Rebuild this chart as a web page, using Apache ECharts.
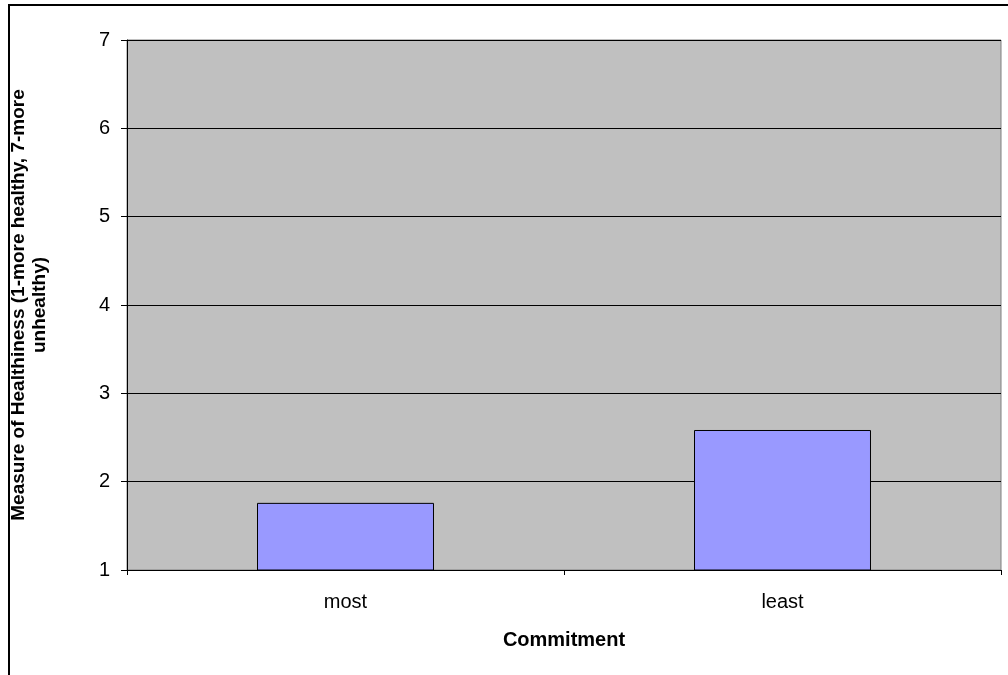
<!DOCTYPE html>
<html>
<head>
<meta charset="utf-8">
<script src="https://cdn.jsdelivr.net/npm/echarts@6/dist/echarts.min.js"></script>
<style>
  html, body { margin: 0; padding: 0; background: #fff; }
  #chart { width: 1008px; height: 675px; }
</style>
</head>
<body>
<div id="chart"></div>
<script>
const categories = ['most', 'least'];
const healthiness = [1.76, 2.585];
const yTicks = { min: 1, max: 7, interval: 1 };

const font = '"Liberation Sans", Arial, sans-serif';

const chart = echarts.init(document.getElementById('chart'), null, { renderer: 'canvas' });

chart.setOption({
    animation: false,
    backgroundColor: '#fff',
    graphic: [{
        type: 'rect',
        shape: { x: 9, y: 5, width: 1020, height: 700 },
        style: { fill: 'none', stroke: '#000', lineWidth: 2 },
        silent: true
    }],
    grid: {
        left: 127, top: 40, right: 7, bottom: 105,
        outerBoundsMode: 'none',
        containLabel: false,
        show: true,
        backgroundColor: '#c0c0c0',
        borderColor: '#808080',
        borderWidth: 1
    },
    xAxis: {
        type: 'category',
        data: categories,
        boundaryGap: true,
        name: 'Commitment',
        nameLocation: 'middle',
        nameGap: 60,
        nameTextStyle: { fontFamily: font, fontSize: 20, fontWeight: 'bold', color: '#000' },
        axisLine: { show: true, lineStyle: { color: '#000', width: 1 } },
        axisTick: { show: true, length: 5, alignWithLabel: false, lineStyle: { color: '#000' } },
        axisLabel: { fontFamily: font, fontSize: 20, color: '#000', margin: 22 },
        splitLine: { show: false }
    },
    yAxis: {
        type: 'value',
        min: yTicks.min,
        max: yTicks.max,
        interval: yTicks.interval,
        name: 'Measure of Healthiness (1-more healthy, 7-more\nunhealthy)',
        nameLocation: 'middle',
        nameRotate: 90,
        nameGap: 77,
        nameTextStyle: {
            fontFamily: font, fontSize: 19, fontWeight: 'bold', color: '#000',
            lineHeight: 21, align: 'center'
        },
        axisLine: { show: true, lineStyle: { color: '#000', width: 1 } },
        axisTick: { show: true, length: 6, lineStyle: { color: '#000' } },
        axisLabel: { fontFamily: font, fontSize: 20, color: '#000', margin: 17 },
        splitLine: { show: true, lineStyle: { color: '#000', width: 1 } }
    },
    series: [{
        type: 'bar',
        data: healthiness,
        barWidth: '40.5%',
        itemStyle: { color: '#9999ff', borderColor: '#000', borderWidth: 1 }
    }]
});
</script>
</body>
</html>
